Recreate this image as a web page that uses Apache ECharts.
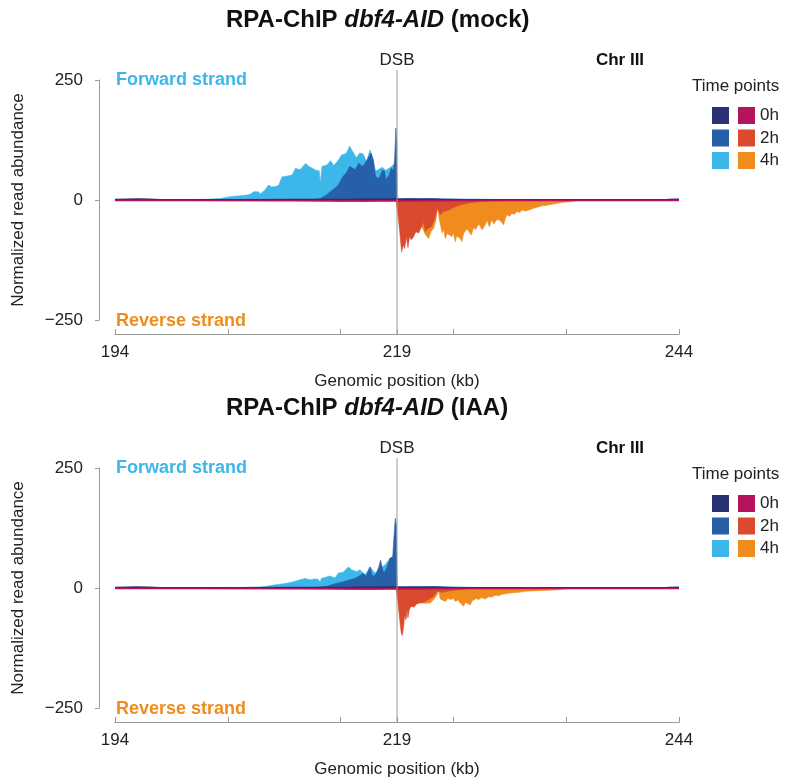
<!DOCTYPE html>
<html><head><meta charset="utf-8">
<script src="https://cdn.jsdelivr.net/npm/echarts@6/dist/echarts.min.js"></script>
<style>html,body{margin:0;padding:0;background:#fff}#c{width:787px;height:780px}</style>
</head><body><div id="c"></div>
<script>
// ---------- data (kb, normalized read abundance) ----------
const DSB_KB = 219;
const X_MIN = 194, X_MAX = 244;
const Y_TICKS = [-250, 0, 250];
const timePoints = ['0h', '2h', '4h'];

// mock panel
const fwd0hMock = [[194,1],[195,1.5],[196,2],[197,1.5],[198,0.5],[205,0.5],[210,1],[215,1.5],[218,2],[218.95,2],[219,0],[219.1,1],[225,0.5],[243,1],[244,1.5]];
const fwd2hMock = [[194,0],[211,0],[211.6,1],[212.2,3],[212.7,10],[213.3,21],[213.8,31],[214.2,49],[214.5,56],[214.8,70],[215.1,66],[215.3,63],[215.6,77],[215.9,70],[216.2,77],[216.5,90],[216.7,98],[216.9,84],[217.1,49],[217.4,45],[217.7,62],[217.9,60],[218.0,42],[218.3,52],[218.5,66],[218.7,62],[218.8,90],[218.9,150],[218.97,120],[219,0],[219.1,2],[220,3],[221,2],[222,3],[223,2],[225,1],[226,0],[244,0]];
const fwd4hMock = [[194,0],[199,0],[200,1],[202,1.5],[203.3,3],[204.2,7],[205.1,9],[205.6,10],[206,12],[206.3,17],[206.7,17],[206.9,13],[207.3,21],[207.6,31],[207.9,27],[208.2,28],[208.5,30],[208.8,48],[209.3,50],[209.7,52],[210,66],[210.4,63],[210.9,76],[211.2,70],[211.5,66],[211.8,62],[212.1,61],[212.2,35],[212.35,70],[212.8,73],[213.1,82],[213.4,72],[213.8,83],[214.1,94],[214.5,97],[214.8,112],[215.1,100],[215.4,88],[215.7,98],[216,96],[216.3,80],[216.6,104],[216.9,80],[217.1,60],[217.4,64],[217.7,68],[218,62],[218.3,66],[218.6,72],[218.95,78],[219,0],[219.2,2],[221,3],[223,2],[226,2],[228,1],[230,0],[244,0]];
const rev0hMock = [[194,-1],[200,-1],[210,-1.5],[215,-2],[219,-2],[219.05,-2],[225,-1],[244,-1]];
const rev2hMock = [[194,0],[210.5,0],[211,-1],[212,-2],[213,-2],[214,-3],[215,-2],[216,-3],[217,-2],[218,-1],[218.9,0],[219,0],[219.09,-31],[219.27,-73],[219.41,-108],[219.56,-94],[219.68,-101],[219.83,-76],[219.97,-99],[220.12,-76],[220.27,-83],[220.48,-76],[220.68,-66],[220.92,-69],[221.16,-56],[221.36,-45],[221.51,-66],[221.75,-59],[222.04,-56],[222.34,-38],[222.6,-17],[222.84,-31],[223.14,-24],[223.58,-21],[224.17,-14],[224.76,-9],[225.65,-5],[226.5,-3],[227.4,-2],[229,-1],[230,0],[244,0]];
const rev4hMock = [[194,0],[212,0],[213,-1],[215,-2],[217,-1],[219,0],[219.1,-20],[219.5,-45],[220,-50],[220.5,-52],[221,-50],[221.3,-60],[221.51,-72],[221.66,-76],[221.8,-80],[222.0,-66],[222.25,-59],[222.45,-42],[222.6,-14],[222.75,-40],[223.0,-69],[223.15,-62],[223.28,-80],[223.45,-70],[223.58,-66],[223.87,-76],[224.0,-68],[224.17,-87],[224.3,-75],[224.47,-73],[224.6,-80],[224.76,-87],[224.9,-70],[225.06,-66],[225.2,-60],[225.35,-56],[225.59,-73],[225.8,-56],[225.95,-62],[226.09,-59],[226.25,-50],[226.39,-52],[226.55,-62],[226.68,-59],[226.85,-50],[226.98,-42],[227.19,-56],[227.3,-48],[227.42,-42],[227.6,-50],[227.72,-45],[227.9,-40],[228.01,-38],[228.2,-44],[228.46,-52],[228.6,-38],[228.75,-31],[229.0,-34],[229.19,-28],[229.4,-30],[229.64,-24],[229.9,-26],[230.08,-21],[230.4,-23],[230.67,-21],[231.0,-18],[231.26,-16],[231.6,-14],[231.85,-12],[232.3,-11],[232.74,-9],[233.2,-7],[233.63,-5],[234.1,-4],[234.51,-3],[235.1,-1],[236.3,0],[244,0]];

// IAA panel
const fwd0hIAA = [[194,1],[195,1.5],[196,2],[197,1.5],[198,0.5],[205,0.5],[210,1],[215,1.5],[218,2],[218.95,2],[219,0],[219.1,1],[225,0.5],[243,1],[244,1.5]];
const fwd2hIAA = [[194,0],[211,0],[211.88,1.5],[212.77,3.5],[213.65,10],[214.24,13],[214.83,17],[215.28,20],[215.72,26],[216.02,31],[216.25,24],[216.45,35],[216.61,44],[216.75,30],[216.9,24],[217.2,31],[217.4,45],[217.55,58],[217.7,40],[217.85,31],[218.08,41],[218.38,62],[218.62,65],[218.74,110],[218.85,145],[218.94,131],[219,0],[219.1,2],[221,2],[222.5,3],[224,1],[225,0],[244,0]];
const fwd4hIAA = [[194,0],[200,0],[203,0.5],[205,1],[206,1.5],[206.86,2],[207.45,3.5],[208.04,6],[208.63,8],[209.22,10],[209.81,13],[210.4,17],[210.84,20],[211.29,17],[211.73,19],[212.0,18],[212.17,12],[212.3,20],[212.47,22],[213.06,25],[213.5,21],[213.8,31],[214.24,33],[214.69,44],[214.98,38],[215.42,34],[215.72,38],[216.16,27],[216.61,44],[217.05,31],[217.49,41],[217.94,48],[218.38,62],[218.6,64],[218.95,70],[219,0],[219.1,2],[220,3],[222,3],[223.5,2],[225,2],[226,1],[228,0],[244,0]];
const rev0hIAA = [[194,-1],[200,-1],[210,-1.5],[215,-2],[219,-2],[219.05,-2],[225,-1],[244,-1]];
const rev2hIAA = [[194,0],[210,0],[213,-1],[215,-3],[217,-3],[218,-2],[218.9,0],[219,0],[219.09,-31],[219.27,-73],[219.38,-94],[219.47,-99],[219.59,-80],[219.68,-56],[219.8,-66],[219.89,-45],[219.97,-62],[220.09,-45],[220.27,-38],[220.48,-40],[220.77,-33],[221.07,-31],[221.36,-30],[221.81,-24],[222.25,-17],[222.55,-7],[223.0,-9],[223.87,-5],[225.06,-2],[226,-1],[227,0],[244,0]];
const rev4hIAA = [[194,0],[214,0],[215,-1],[217,-1],[219,0],[219.1,-15],[219.5,-20],[220,-22],[220.62,-28],[221,-30],[221.51,-32],[221.66,-35],[221.95,-31],[222.25,-24],[222.55,-14],[222.69,-5],[222.84,-23],[223.0,-20],[223.28,-28],[223.5,-22],[223.73,-24],[224.0,-22],[224.17,-28],[224.4,-25],[224.61,-31],[224.91,-38],[225.05,-30],[225.2,-31],[225.5,-35],[225.65,-27],[225.8,-28],[226.0,-22],[226.24,-24],[226.5,-20],[226.83,-23],[227.1,-18],[227.42,-19],[227.7,-15],[228.01,-16],[228.3,-13],[228.6,-12],[229.19,-10],[229.79,-9],[230.4,-7],[230.97,-6],[232.15,-5],[233.33,-3.5],[234.22,-1.5],[235.1,0],[244,0]];

// ---------- style ----------
const FONT = '"Liberation Sans", Arial, Helvetica, sans-serif';
const AX = '#9a9a9a';
const COL = {
  fwd: ['#2b3273', '#2660a9', '#3db7e9'],
  rev: ['#b5135b', '#da4a2e', '#f08c1e']
};
const panels = [
  { tag: 'mock', top: 80, fwd: [fwd0hMock, fwd2hMock, fwd4hMock], rev: [rev0hMock, rev2hMock, rev4hMock] },
  { tag: 'IAA', top: 468, fwd: [fwd0hIAA, fwd2hIAA, fwd4hIAA], rev: [rev0hIAA, rev2hIAA, rev4hIAA] }
];
const PH = 240, GL = 115, GR = 108;

const option = {
  animation: false,
  backgroundColor: '#fff',
  textStyle: { fontFamily: FONT },
  title: [], grid: [], xAxis: [], yAxis: [], series: [], legend: [], graphic: []
};

panels.forEach((p, i) => {
  const dy = p.top - 80;
  option.title.push({
    text: '{b|RPA-ChIP }{i|dbf4-AID}{b| (' + p.tag + ')}',
    left: 226, top: 8 + dy, padding: 0,
    textStyle: { rich: {
      b: { fontSize: 24, fontWeight: 'bold', color: '#111', fontFamily: FONT },
      i: { fontSize: 24, fontWeight: 'bold', fontStyle: 'italic', color: '#111', fontFamily: FONT }
    } }
  });
  option.grid.push({ left: GL, right: GR, top: p.top, height: PH });
  // x axis with 10 kb ticks
  option.xAxis.push({
    gridIndex: i, type: 'value', min: X_MIN, max: X_MAX, interval: 10, position: 'bottom', offset: 14,
    axisLine: { show: true, onZero: false, lineStyle: { color: AX, width: 1 } },
    axisTick: { show: true, inside: true, length: 5, lineStyle: { color: AX } },
    axisLabel: { show: false }, splitLine: { show: false }
  });
  // x axis with labels at 194 / 219 / 244
  option.xAxis.push({
    gridIndex: i, type: 'value', min: X_MIN, max: X_MAX, interval: DSB_KB - X_MIN, position: 'bottom', offset: 14,
    axisLine: { show: true, onZero: false, lineStyle: { color: AX, width: 1 } },
    axisTick: { show: true, inside: true, length: 5, lineStyle: { color: AX } },
    axisLabel: { show: true, fontSize: 17, color: '#222', margin: 10, fontFamily: FONT },
    splitLine: { show: false },
    name: 'Genomic position (kb)', nameLocation: 'middle', nameGap: 39,
    nameTextStyle: { fontSize: 17, color: '#222', fontFamily: FONT }
  });
  option.yAxis.push({
    gridIndex: i, type: 'value', min: Y_TICKS[0], max: Y_TICKS[2], interval: Y_TICKS[2], offset: 16,
    axisLine: { show: true, onZero: false, lineStyle: { color: AX, width: 1 } },
    axisTick: { show: true, length: 4, lineStyle: { color: AX } },
    splitLine: { show: false },
    axisLabel: { fontSize: 17, color: '#222', margin: 16, fontFamily: FONT,
      formatter: v => String(v).replace('-', '\u2212') },
    name: 'Normalized read abundance', nameLocation: 'middle', nameGap: 72,
    nameTextStyle: { fontSize: 17, color: '#222', fontFamily: FONT }
  });
  // draw order: 4h, 2h, 0h (0h on top); each series gets its own z so lines don't bleed over later areas
  let k = 0;
  [2, 1, 0].forEach(t => {
    ['fwd', 'rev'].forEach(s => {
      const c = COL[s][t];
      option.series.push({
        name: timePoints[t] + ' ' + s, type: 'line', xAxisIndex: i * 2, yAxisIndex: i,
        data: p[s][t], symbol: 'none', showSymbol: false, smooth: false,
        z: 2 + (k++),
        color: c, itemStyle: { color: c },
        lineStyle: { color: c, width: t === 0 ? 1.5 : 0.6 },
        areaStyle: { color: c, opacity: 1 },
        emphasis: { disabled: true }, silent: true
      });
    });
  });
  // legend: left column (forward, no text), right column (reverse, with time label)
  option.legend.push({
    orient: 'vertical', left: 712, top: 107 + dy, padding: 0, itemWidth: 17, itemHeight: 17, itemGap: 5.5,
    icon: 'rect', selectedMode: false, data: timePoints.map(t => t + ' fwd'), formatter: () => '',
    textStyle: { fontSize: 17 }
  });
  option.legend.push({
    orient: 'vertical', left: 738, top: 107 + dy, padding: 0, itemWidth: 17, itemHeight: 17, itemGap: 5.5,
    icon: 'rect', selectedMode: false, data: timePoints.map(t => t + ' rev'),
    formatter: n => n.split(' ')[0],
    textStyle: { fontSize: 17, color: '#222', fontFamily: FONT }
  });
  const txt = (text, x, y, extra) => ({
    type: 'text', x: x, y: y + dy, silent: true,
    style: Object.assign({ text: text, fontSize: 17, fontFamily: FONT, fill: '#222', align: 'left', verticalAlign: 'middle' }, extra || {})
  });
  option.graphic.push(
    txt('Forward strand', 116, 80, { fill: '#3db7e9', fontWeight: 'bold', fontSize: 18 }),
    txt('Reverse strand', 116, 321, { fill: '#f08c1e', fontWeight: 'bold', fontSize: 18 }),
    txt('DSB', 397, 60, { align: 'center' }),
    txt('Chr III', 620, 60, { align: 'center', fontWeight: 'bold', fill: '#111' }),
    txt('Time points', 692, 86, {})
  );
});

const chart = echarts.init(document.getElementById('c'), null, { renderer: 'canvas' });
chart.setOption(option);
// DSB marker lines, positioned through the x scale
const extra = panels.map((p, i) => {
  const x = chart.convertToPixel({ xAxisIndex: i * 2 }, DSB_KB);
  return { type: 'line', silent: true, z: 20,
    shape: { x1: x, y1: p.top - 10, x2: x, y2: p.top + PH + 14 },
    style: { stroke: AX, lineWidth: 1 } };
});
chart.setOption({ graphic: option.graphic.concat(extra) });
</script></body></html>
